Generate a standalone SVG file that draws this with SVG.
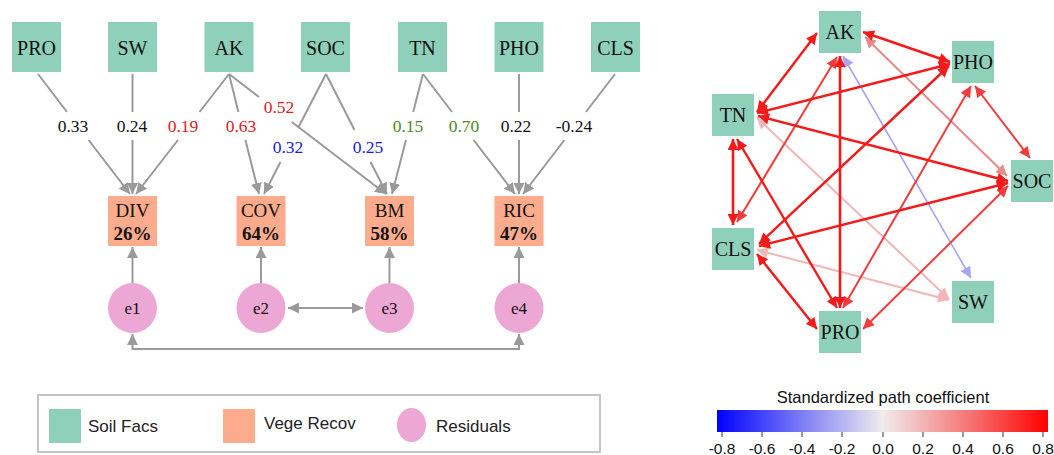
<svg xmlns="http://www.w3.org/2000/svg" width="1054" height="455" viewBox="0 0 1054 455">
<style>
.soil{fill:#8fd0ba}
.veg{fill:#fcab8c}
.res{fill:#eca7d4}
.lbl{font-family:"Liberation Serif","Times New Roman",serif;font-size:20px;fill:#111;text-anchor:middle}
.vlbl{font-family:"Liberation Serif","Times New Roman",serif;font-size:19px;fill:#111;text-anchor:middle}
.vpct{font-family:"Liberation Serif","Times New Roman",serif;font-size:19px;font-weight:bold;fill:#111;text-anchor:middle}
.elbl{font-family:"Liberation Serif","Times New Roman",serif;font-size:17px;fill:#111;text-anchor:middle}
.coef{font-family:"Liberation Serif","Times New Roman",serif;font-size:17.5px;text-anchor:middle}
.k{fill:#111}.r{fill:#e0201c}.b{fill:#1a1adc}.g{fill:#4e8a22}
.gl{fill:none;stroke:#9a9a9a;stroke-width:2}
.leg{font-family:"Liberation Sans",Arial,sans-serif;font-size:17px;fill:#222}
.cb{font-family:"Liberation Sans",Arial,sans-serif;fill:#111;text-anchor:middle}
.e{fill:none}
</style>
<defs>
<marker id="ga" viewBox="0 0 10 10" refX="10" refY="5" markerWidth="11" markerHeight="11" markerUnits="userSpaceOnUse" orient="auto-start-reverse"><path d="M0,0 L10,5 L0,10 z" fill="#9a9a9a"/></marker>
<marker id="m1" viewBox="0 0 10 10" refX="10" refY="5" markerWidth="12" markerHeight="11" markerUnits="userSpaceOnUse" orient="auto-start-reverse"><path d="M0,0 L10,5 L0,10 z" fill="#f51a1a"/></marker>
<marker id="m2" viewBox="0 0 10 10" refX="10" refY="5" markerWidth="12" markerHeight="11" markerUnits="userSpaceOnUse" orient="auto-start-reverse"><path d="M0,0 L10,5 L0,10 z" fill="#f03c3c"/></marker>
<marker id="m3" viewBox="0 0 10 10" refX="10" refY="5" markerWidth="12" markerHeight="11" markerUnits="userSpaceOnUse" orient="auto-start-reverse"><path d="M0,0 L10,5 L0,10 z" fill="#e88a8a"/></marker>
<marker id="m4" viewBox="0 0 10 10" refX="10" refY="5" markerWidth="12" markerHeight="11" markerUnits="userSpaceOnUse" orient="auto-start-reverse"><path d="M0,0 L10,5 L0,10 z" fill="#f2b6b6"/></marker>
<marker id="m5" viewBox="0 0 10 10" refX="10" refY="5" markerWidth="12" markerHeight="11" markerUnits="userSpaceOnUse" orient="auto-start-reverse"><path d="M0,0 L10,5 L0,10 z" fill="#a6a6f0"/></marker>
<linearGradient id="cbg" x1="0" y1="0" x2="1" y2="0">
<stop offset="0" stop-color="#0000ff"/>
<stop offset="0.25" stop-color="#7a7af6"/>
<stop offset="0.5" stop-color="#efecee"/>
<stop offset="0.75" stop-color="#f57a7a"/>
<stop offset="1" stop-color="#ff0000"/>
</linearGradient>
</defs>
<rect width="1054" height="455" fill="#fff"/>

<!-- Left SEM connectors -->
<g id="sem-connectors">
<path class="gl" d="M38,74 L67,112 M88.6,140 L130,194" marker-end="url(#ga)"/>
<path class="gl" d="M132.5,74 L132.5,112 M132.5,140 L132.5,194" marker-end="url(#ga)"/>
<path class="gl" d="M229,74 L199.5,112 M178,140 L136,194" marker-end="url(#ga)"/>
<path class="gl" d="M229,74 L238.4,112 M245.4,140 L259,194" marker-end="url(#ga)"/>
<path class="gl" d="M229,74 L259,97 M291.8,122 L386,194" marker-end="url(#ga)"/>
<path class="gl" d="M326,74 L298,128 M280.5,162 L264,194" marker-end="url(#ga)"/>
<path class="gl" d="M326,74 L354.5,130 M370.5,162 L387,194" marker-end="url(#ga)"/>
<path class="gl" d="M423,74 L413.2,112 M406,140 L392,194" marker-end="url(#ga)"/>
<path class="gl" d="M423,74 L452,112 M473.6,140 L515,194" marker-end="url(#ga)"/>
<path class="gl" d="M519,74 L519,112 M519,140 L519,194" marker-end="url(#ga)"/>
<path class="gl" d="M615,74 L585.9,112 M564.4,140 L523,194" marker-end="url(#ga)"/>
<path class="gl" d="M132.5,283 L132.5,247" marker-end="url(#ga)"/>
<path class="gl" d="M261,283 L261,247" marker-end="url(#ga)"/>
<path class="gl" d="M389.5,283 L389.5,247" marker-end="url(#ga)"/>
<path class="gl" d="M519,283 L519,247" marker-end="url(#ga)"/>
<path class="gl" d="M288,308 L363,308" marker-start="url(#ga)" marker-end="url(#ga)"/>
<path class="gl" d="M132.5,334 L132.5,349 L519,349 L519,334" marker-start="url(#ga)" marker-end="url(#ga)"/>
</g>
<g id="sem-coefficients">
<text class="coef k" x="73" y="132">0.33</text>
<text class="coef k" x="132" y="132">0.24</text>
<text class="coef r" x="183" y="132">0.19</text>
<text class="coef r" x="241" y="132">0.63</text>
<text class="coef r" x="279" y="113">0.52</text>
<text class="coef b" x="288" y="153">0.32</text>
<text class="coef b" x="368" y="153">0.25</text>
<text class="coef g" x="408" y="132">0.15</text>
<text class="coef g" x="464" y="132">0.70</text>
<text class="coef k" x="516" y="132">0.22</text>
<text class="coef k" x="574" y="132">-0.24</text>
</g>

<!-- Left SEM nodes -->
<g id="sem-PRO"><rect class="soil" x="12" y="22" width="49" height="50"/><text class="lbl" x="36.5" y="55">PRO</text></g>
<g id="sem-SW"><rect class="soil" x="108" y="22" width="49" height="50"/><text class="lbl" x="132.5" y="55">SW</text></g>
<g id="sem-AK"><rect class="soil" x="204.5" y="22" width="49" height="50"/><text class="lbl" x="229" y="55">AK</text></g>
<g id="sem-SOC"><rect class="soil" x="301" y="22" width="49" height="50"/><text class="lbl" x="325.5" y="55">SOC</text></g>
<g id="sem-TN"><rect class="soil" x="398" y="22" width="49" height="50"/><text class="lbl" x="422.5" y="55">TN</text></g>
<g id="sem-PHO"><rect class="soil" x="494.5" y="22" width="49" height="50"/><text class="lbl" x="519" y="55">PHO</text></g>
<g id="sem-CLS"><rect class="soil" x="591" y="22" width="49" height="50"/><text class="lbl" x="615.5" y="55">CLS</text></g>

<g id="sem-DIV"><rect class="veg" x="108" y="196" width="49" height="50"/><text class="vlbl" x="132.5" y="217">DIV</text><text class="vpct" x="132.5" y="239.5">26%</text></g>
<g id="sem-COV"><rect class="veg" x="236.5" y="196" width="49" height="50"/><text class="vlbl" x="261" y="217">COV</text><text class="vpct" x="261" y="239.5">64%</text></g>
<g id="sem-BM"><rect class="veg" x="365" y="196" width="49" height="50"/><text class="vlbl" x="389.5" y="217">BM</text><text class="vpct" x="389.5" y="239.5">58%</text></g>
<g id="sem-RIC"><rect class="veg" x="494.5" y="196" width="49" height="50"/><text class="vlbl" x="519" y="217">RIC</text><text class="vpct" x="519" y="239.5">47%</text></g>

<g id="sem-e1"><ellipse class="res" cx="132.5" cy="308" rx="24.5" ry="25"/><text class="elbl" x="132.5" y="314">e1</text></g>
<g id="sem-e2"><ellipse class="res" cx="261" cy="308" rx="24.5" ry="25"/><text class="elbl" x="261" y="314">e2</text></g>
<g id="sem-e3"><ellipse class="res" cx="389.5" cy="308" rx="24.5" ry="25"/><text class="elbl" x="389.5" y="314">e3</text></g>
<g id="sem-e4"><ellipse class="res" cx="519" cy="308" rx="24.5" ry="25"/><text class="elbl" x="519" y="314">e4</text></g>

<!-- Legend -->
<g id="legend">
<rect x="38" y="395" width="562" height="57" fill="#fff" stroke="#c4c4c4" stroke-width="2"/>
<rect class="soil" x="49" y="409" width="32" height="34"/>
<text class="leg" x="88" y="432">Soil Facs</text>
<rect class="veg" x="223" y="409" width="32" height="34"/>
<text class="leg" x="264" y="429">Vege Recov</text>
<ellipse class="res" cx="411.5" cy="425" rx="14.5" ry="17"/>
<text class="leg" x="436" y="432">Residuals</text>
</g>

<!-- Right network connectors -->
<g id="net-connectors" stroke-linecap="butt">
<line class="e" x1="757" y1="118" x2="949" y2="299" stroke="#f2b6b6" stroke-width="2" marker-start="url(#m4)" marker-end="url(#m4)"/>
<line class="e" x1="757" y1="250" x2="949" y2="300" stroke="#f2b6b6" stroke-width="2" marker-start="url(#m4)" marker-end="url(#m4)"/>
<line class="e" x1="843" y1="56" x2="971" y2="278" stroke="#a6a6f0" stroke-width="1.6" marker-start="url(#m5)" marker-end="url(#m5)"/>
<line class="e" x1="865" y1="37" x2="1007" y2="176" stroke="#e88a8a" stroke-width="2" marker-start="url(#m3)" marker-end="url(#m3)"/>
<line class="e" x1="971" y1="86" x2="843" y2="308" stroke="#f03c3c" stroke-width="2" marker-start="url(#m2)" marker-end="url(#m2)"/>
<line class="e" x1="975" y1="86" x2="1030" y2="158" stroke="#f03c3c" stroke-width="2" marker-start="url(#m2)" marker-end="url(#m2)"/>
<line class="e" x1="837" y1="57" x2="737" y2="222" stroke="#f03c3c" stroke-width="2" marker-start="url(#m2)" marker-end="url(#m2)"/>
<line class="e" x1="1008" y1="186" x2="863" y2="329" stroke="#f03c3c" stroke-width="2" marker-start="url(#m2)" marker-end="url(#m2)"/>
<line class="e" x1="949" y1="66" x2="759" y2="244" stroke="#f51a1a" stroke-width="2.4" marker-start="url(#m1)" marker-end="url(#m1)"/>
<line class="e" x1="817" y1="33" x2="757" y2="112" stroke="#f51a1a" stroke-width="2.4" marker-start="url(#m1)" marker-end="url(#m1)"/>
<line class="e" x1="863" y1="32" x2="950" y2="62" stroke="#f51a1a" stroke-width="2.4" marker-start="url(#m1)" marker-end="url(#m1)"/>
<line class="e" x1="950" y1="64" x2="757" y2="113" stroke="#f51a1a" stroke-width="2.6" marker-start="url(#m1)" marker-end="url(#m1)"/>
<line class="e" x1="758" y1="116" x2="1008" y2="181" stroke="#f51a1a" stroke-width="2.4" marker-start="url(#m1)" marker-end="url(#m1)"/>
<line class="e" x1="840" y1="56" x2="840" y2="308" stroke="#f51a1a" stroke-width="2.6" marker-start="url(#m1)" marker-end="url(#m1)"/>
<line class="e" x1="733" y1="139" x2="733" y2="225" stroke="#f51a1a" stroke-width="2.6" marker-start="url(#m1)" marker-end="url(#m1)"/>
<line class="e" x1="737" y1="139" x2="837" y2="308" stroke="#f51a1a" stroke-width="2.4" marker-start="url(#m1)" marker-end="url(#m1)"/>
<line class="e" x1="1008" y1="183" x2="759" y2="246" stroke="#f51a1a" stroke-width="2.4" marker-start="url(#m1)" marker-end="url(#m1)"/>
<line class="e" x1="757" y1="254" x2="817" y2="329" stroke="#f51a1a" stroke-width="2.4" marker-start="url(#m1)" marker-end="url(#m1)"/>
</g>

<!-- Right network nodes -->
<g id="net-AK"><rect class="soil" x="819" y="11" width="42" height="42"/><text class="lbl" x="840" y="39">AK</text></g>
<g id="net-PHO"><rect class="soil" x="952" y="41" width="42" height="42"/><text class="lbl" x="973" y="69">PHO</text></g>
<g id="net-TN"><rect class="soil" x="712" y="94" width="42" height="42"/><text class="lbl" x="733" y="122">TN</text></g>
<g id="net-SOC"><rect class="soil" x="1011" y="160" width="42" height="42"/><text class="lbl" x="1032" y="188">SOC</text></g>
<g id="net-CLS"><rect class="soil" x="712" y="228" width="42" height="42"/><text class="lbl" x="733" y="256">CLS</text></g>
<g id="net-SW"><rect class="soil" x="952" y="281" width="42" height="42"/><text class="lbl" x="973" y="309">SW</text></g>
<g id="net-PRO"><rect class="soil" x="819" y="311" width="42" height="42"/><text class="lbl" x="840" y="339">PRO</text></g>

<!-- Colour bar -->
<g id="colorbar">
<text class="cb" x="883" y="403" font-size="16.5">Standardized path coefficient</text>
<rect x="717" y="410" width="331" height="22" fill="url(#cbg)"/>
<g stroke="#333" stroke-width="1">
<line x1="722" y1="432" x2="722" y2="437"/><line x1="762" y1="432" x2="762" y2="437"/><line x1="802" y1="432" x2="802" y2="437"/><line x1="842" y1="432" x2="842" y2="437"/><line x1="883" y1="432" x2="883" y2="437"/><line x1="923" y1="432" x2="923" y2="437"/><line x1="963" y1="432" x2="963" y2="437"/><line x1="1003" y1="432" x2="1003" y2="437"/><line x1="1043" y1="432" x2="1043" y2="437"/>
</g>
<g font-size="15.5">
<text class="cb" x="722" y="454">-0.8</text><text class="cb" x="762" y="454">-0.6</text><text class="cb" x="802" y="454">-0.4</text><text class="cb" x="842" y="454">-0.2</text><text class="cb" x="883" y="454">0.0</text><text class="cb" x="923" y="454">0.2</text><text class="cb" x="963" y="454">0.4</text><text class="cb" x="1003" y="454">0.6</text><text class="cb" x="1043" y="454">0.8</text>
</g>
</g>
</svg>
